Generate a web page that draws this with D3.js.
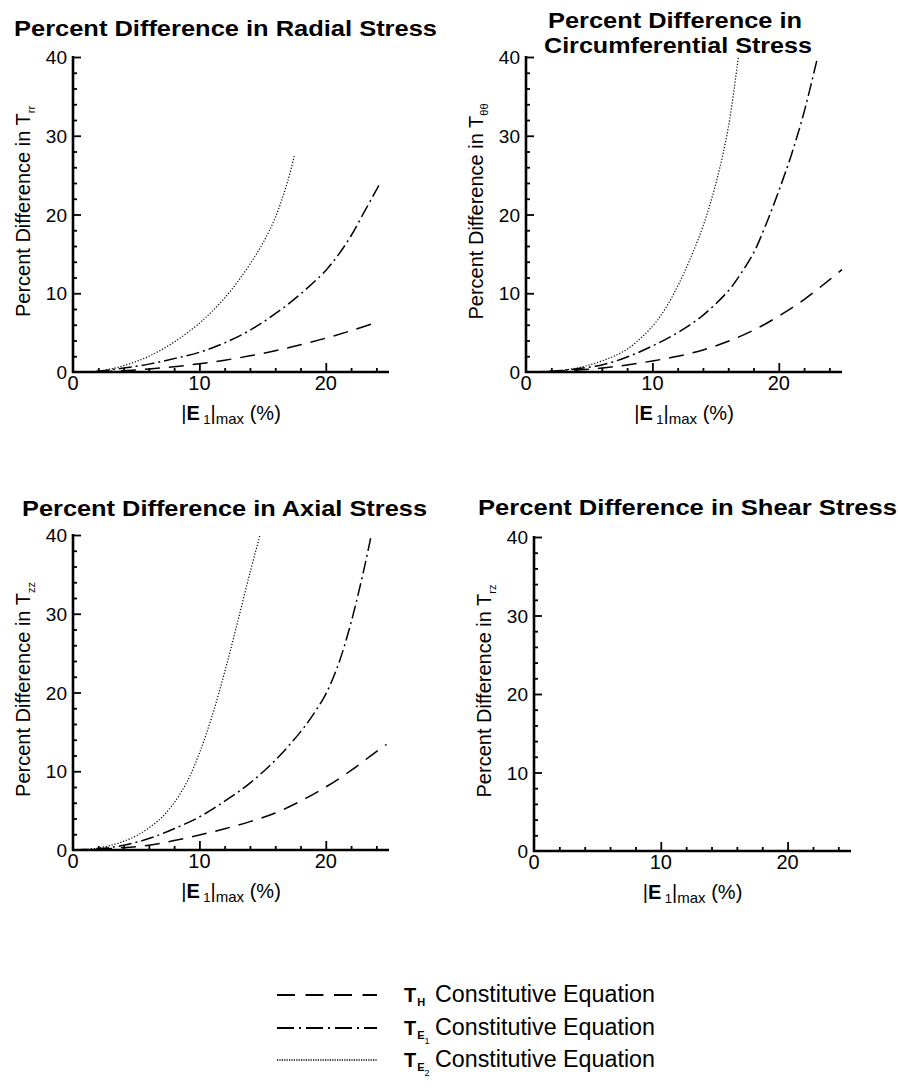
<!DOCTYPE html>
<html><head><meta charset="utf-8">
<script src="https://cdn.jsdelivr.net/npm/d3@7"></script>
<style>
body{margin:0;background:#fff}
svg{display:block}
text{font-family:"Liberation Sans",Arial,Helvetica,sans-serif;fill:#000}
</style>
</head><body><div id="chart"></div>
<script>
// ---------------- DATA ----------------
const xTickValues = [0, 10, 20];
const yTickValues = [0, 10, 20, 30, 40];
const xDomain = [0, 25];
const yDomain = [0, 40];

// Radial stress
const radialTH_x  = [0, 2, 4, 6, 8, 10, 12, 14, 16, 18, 20, 22, 24.2];
const radialTH_y  = [0, 0.04, 0.17, 0.38, 0.67, 1.05, 1.5, 2.05, 2.7, 3.45, 4.3, 5.25, 6.4];
const radialTE1_x = [0, 2, 4, 6, 8, 10, 12, 14, 16, 18, 20, 21, 22, 23, 24.2];
const radialTE1_y = [0, 0.1, 0.5, 1.0, 1.7, 2.5, 3.7, 5.3, 7.4, 9.9, 12.9, 14.9, 17.3, 20.2, 23.7];
const radialTE2_x = [0, 2, 4, 6, 8, 10, 11, 12, 13, 14, 15, 16, 17, 17.5];
const radialTE2_y = [0, 0.1, 0.8, 2.0, 3.8, 6.2, 7.7, 9.4, 11.4, 13.7, 16.3, 19.6, 24.3, 27.4];

// Circumferential stress
const circTH_x  = [0, 2, 4, 6, 8, 10, 12, 14, 16, 18, 20, 22, 24, 25];
const circTH_y  = [0, 0.05, 0.25, 0.5, 0.9, 1.4, 2.0, 2.8, 3.9, 5.3, 7.1, 9.2, 11.7, 13.0];
const circTE1_x = [0, 2, 4, 6, 8, 10, 12, 14, 16, 17, 18, 19, 20, 21, 22, 23];
const circTE1_y = [0, 0.1, 0.4, 0.9, 1.9, 3.3, 5.0, 7.2, 10.3, 12.5, 15.1, 18.8, 23.0, 27.6, 33.0, 39.5];
const circTE2_x = [0, 2, 4, 6, 8, 10, 11, 12, 13, 14, 15, 16, 16.8];
const circTE2_y = [0, 0.1, 0.5, 1.4, 2.9, 5.8, 8.0, 10.9, 14.4, 18.5, 23.8, 31.0, 40];

// Axial stress
const axialTH_x  = [0, 2, 4, 6, 8, 10, 12, 14, 16, 18, 20, 22, 24, 24.8];
const axialTH_y  = [0, 0.1, 0.3, 0.6, 1.2, 1.9, 2.7, 3.6, 4.7, 6.2, 8.0, 10.1, 12.5, 13.4];
const axialTE1_x = [0, 2, 4, 6, 8, 10, 12, 14, 16, 18, 19, 20, 21, 22, 23, 23.6];
const axialTE1_y = [0, 0.15, 0.6, 1.45, 2.7, 4.2, 6.2, 8.5, 11.4, 15.0, 17.2, 19.8, 23.6, 28.9, 35.5, 40];
const axialTE2_x = [0, 1, 2, 3, 4, 5, 6, 7, 8, 9, 10, 11, 12, 13, 14, 14.8];
const axialTE2_y = [0, 0.05, 0.25, 0.6, 1.1, 1.8, 2.8, 4.1, 6.0, 8.6, 12.3, 17.0, 22.6, 28.8, 35.2, 40];

// Shear stress (all essentially zero)
const shearTH_x  = [0, 5, 10, 15, 20, 25];
const shearTH_y  = [0, 0, 0, 0, 0, 0];
const shearTE1_x = [0, 5, 10, 15, 20, 25];
const shearTE1_y = [0, 0, 0, 0, 0, 0];
const shearTE2_x = [0, 5, 10, 15, 20, 25];
const shearTE2_y = [0, 0, 0, 0, 0, 0];

const legendLabel = "Constitutive Equation";

// ---------------- LAYOUT ----------------
const W = 898, H = 1092;
const svg = d3.select("#chart").append("svg").attr("width", W).attr("height", H);
svg.append("rect").attr("width", W).attr("height", H).attr("fill", "#fff");

const zip = (xs, ys) => xs.map((v, i) => [v, ys[i]]);

const styles = {
  TH:  {dash: "15,9", width: 1.5},
  TE1: {dash: "13,4,2,4", width: 1.5},
  TE2: {dash: "1.2,1.8", width: 1.2}
};

const panels = [
  {x0: 73, x1: 389, y0: 372, y1: 57,
   title: [{t: "Percent Difference in Radial Stress", x: 14, y: 36, len: 423}],
   sub: "rr", labX: 30,
   series: {TH: zip(radialTH_x, radialTH_y), TE1: zip(radialTE1_x, radialTE1_y), TE2: zip(radialTE2_x, radialTE2_y)}},
  {x0: 526, x1: 842, y0: 372, y1: 57,
   title: [{t: "Percent Difference in", x: 548, y: 28, len: 254},
           {t: "Circumferential Stress", x: 544, y: 53, len: 268}],
   sub: "θθ", labX: 483,
   series: {TH: zip(circTH_x, circTH_y), TE1: zip(circTE1_x, circTE1_y), TE2: zip(circTE2_x, circTE2_y)}},
  {x0: 73, x1: 389, y0: 850, y1: 535,
   title: [{t: "Percent Difference in Axial Stress", x: 22, y: 516, len: 405}],
   sub: "zz", labX: 30,
   series: {TH: zip(axialTH_x, axialTH_y), TE1: zip(axialTE1_x, axialTE1_y), TE2: zip(axialTE2_x, axialTE2_y)}},
  {x0: 534, x1: 851, y0: 851, y1: 537,
   title: [{t: "Percent Difference in Shear Stress", x: 478, y: 515, len: 419}],
   sub: "rz", labX: 491,
   series: {TH: zip(shearTH_x, shearTH_y), TE1: zip(shearTE1_x, shearTE1_y), TE2: zip(shearTE2_x, shearTE2_y)}}
];

panels.forEach(p => {
  const x = d3.scaleLinear().domain(xDomain).range([p.x0, p.x1]);
  const y = d3.scaleLinear().domain(yDomain).range([p.y0, p.y1]);
  const g = svg.append("g");

  // titles
  p.title.forEach(t => {
    g.append("text").attr("x", t.x).attr("y", t.y)
      .attr("font-size", 22).attr("font-weight", "bold")
      .attr("textLength", t.len).attr("lengthAdjust", "spacingAndGlyphs")
      .text(t.t);
  });

  // curves
  const line = d3.line().x(d => x(d[0])).y(d => y(d[1])).curve(d3.curveCatmullRom.alpha(0.5));
  ["TH", "TE1", "TE2"].forEach(k => {
    g.append("path").datum(p.series[k]).attr("d", line)
      .attr("fill", "none").attr("stroke", "#000")
      .attr("stroke-width", styles[k].width)
      .attr("stroke-dasharray", styles[k].dash);
  });

  // x axis (ticks inward / upward)
  const xMinor = d3.range(0, 25.01, 2).filter(v => v % 10 !== 0);
  const xAxisMajor = d3.axisTop(x).tickValues(xTickValues.filter(v => v > 0)).tickSize(9).tickFormat("");
  const xAxisMinor = d3.axisTop(x).tickValues(xMinor).tickSize(4).tickFormat("");
  [xAxisMajor, xAxisMinor].forEach(ax => {
    const a = g.append("g").attr("transform", `translate(0,${p.y0})`).call(ax);
    a.select(".domain").remove();
    a.selectAll("line").attr("stroke", "#000").attr("stroke-width", 1.8);
  });
  g.append("line").attr("x1", x(0) - 1).attr("x2", x(25)).attr("y1", p.y0).attr("y2", p.y0)
    .attr("stroke", "#000").attr("stroke-width", 2.6);
  g.selectAll(".xlab").data(xTickValues).enter().append("text")
    .attr("x", d => x(d)).attr("y", p.y0 + 18)
    .attr("text-anchor", "middle").attr("font-size", 20).text(d => d);

  // y axis (ticks inward / right)
  const yMinor = d3.range(0, 40.01, 2).filter(v => v % 10 !== 0);
  const yAxisMajor = d3.axisRight(y).tickValues(yTickValues.filter(v => v > 0)).tickSize(8).tickFormat("");
  const yAxisMinor = d3.axisRight(y).tickValues(yMinor).tickSize(4).tickFormat("");
  [yAxisMajor, yAxisMinor].forEach(ax => {
    const a = g.append("g").attr("transform", `translate(${p.x0},0)`).call(ax);
    a.select(".domain").remove();
    a.selectAll("line").attr("stroke", "#000").attr("stroke-width", 1.8);
  });
  g.append("line").attr("x1", p.x0).attr("x2", p.x0).attr("y1", y(0) + 1).attr("y2", y(40) - 1)
    .attr("stroke", "#000").attr("stroke-width", 2.6);
  g.selectAll(".ylab").data(yTickValues).enter().append("text")
    .attr("x", p.x0 - 6).attr("y", d => y(d) + 7)
    .attr("text-anchor", "end").attr("font-size", 19).text(d => d);

  // y axis title
  const ymid = (p.y0 + p.y1) / 2 - 3;
  const yt = g.append("text").attr("transform", `translate(${p.labX},${ymid}) rotate(-90)`)
    .attr("text-anchor", "middle").attr("font-size", 20);
  yt.append("tspan").text("Percent Difference in T");
  yt.append("tspan").attr("font-size", 11).attr("dy", 5).text(p.sub);

  // x axis title
  const xmid = (p.x0 + p.x1) / 2;
  const xt = g.append("text").attr("x", xmid).attr("y", p.y0 + 48)
    .attr("text-anchor", "middle").attr("font-size", 20);
  xt.append("tspan").text("|");
  xt.append("tspan").attr("font-weight", "bold").text("E");
  xt.append("tspan").attr("font-size", 13).attr("dy", 4).text(" 1");
  xt.append("tspan").attr("dy", -4).text("|");
  xt.append("tspan").attr("font-size", 15).attr("dy", 4).text("max");
  xt.append("tspan").attr("dy", -4).text("  (%)");
});

// ---------------- LEGEND ----------------
const legendItems = [
  {key: "TH", y: 995, sub: "H", subsub: null, ldash: "18,10.5", w: 1.8},
  {key: "TE1", y: 1028, sub: "E", subsub: "1", ldash: "17,5,2,5", w: 1.8},
  {key: "TE2", y: 1060, sub: "E", subsub: "2", ldash: "1.2,1.2", w: 1.4}
];
const lg = svg.append("g");
legendItems.forEach(it => {
  lg.append("line").attr("x1", 277).attr("x2", 377).attr("y1", it.y).attr("y2", it.y)
    .attr("stroke", "#000").attr("stroke-width", it.w).attr("stroke-dasharray", it.ldash);
  const t = lg.append("text").attr("x", 404).attr("y", it.y + 7).attr("font-size", 20).attr("font-weight", "bold");
  t.append("tspan").text("T");
  t.append("tspan").attr("font-size", 11).attr("dy", 4).attr("dx", 1).text(it.sub);
  if (it.subsub) t.append("tspan").attr("font-size", 9).attr("font-weight", "normal").attr("dy", 5).text(it.subsub);
  lg.append("text").attr("x", 435).attr("y", it.y + 7).attr("font-size", 23)
    .attr("textLength", 220).attr("lengthAdjust", "spacingAndGlyphs").text(legendLabel);
});
</script>
</body></html>
